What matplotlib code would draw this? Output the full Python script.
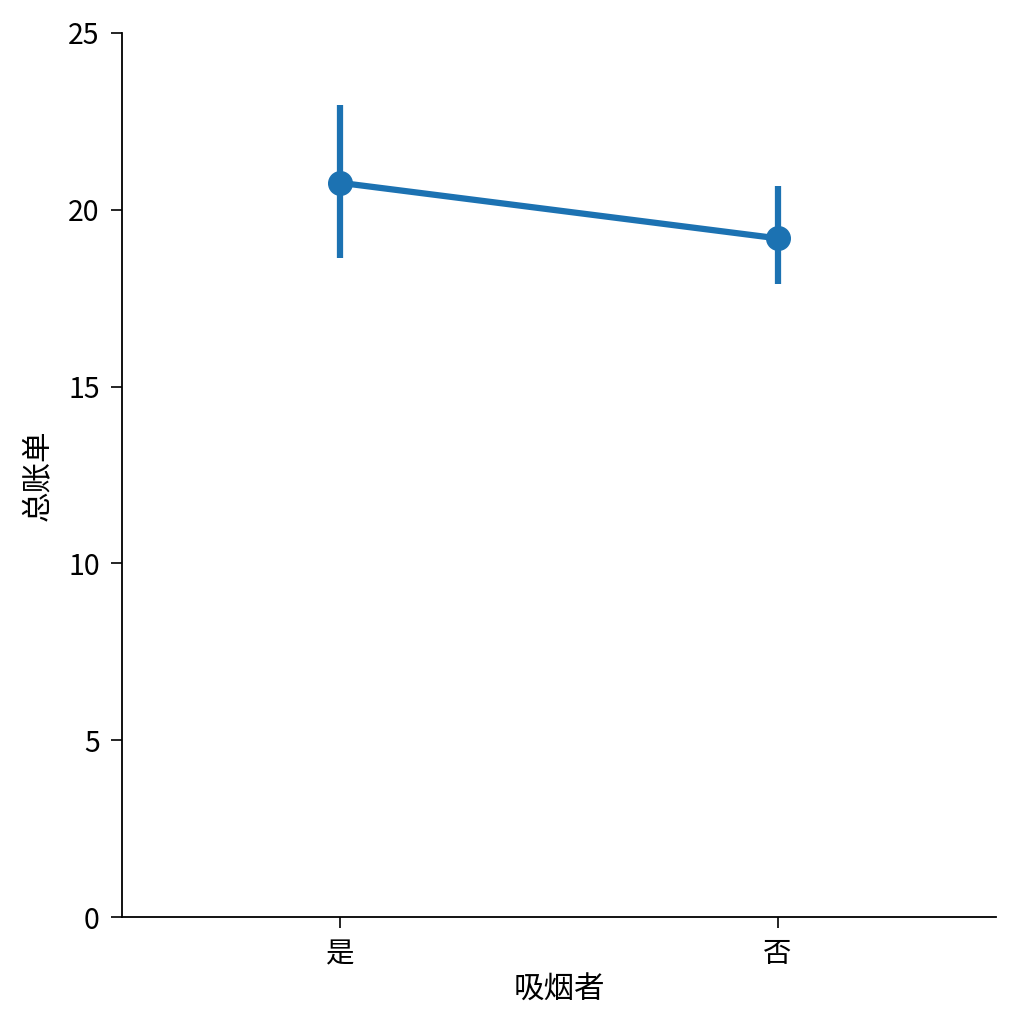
import matplotlib
matplotlib.use("Agg")
import matplotlib.pyplot as plt

plt.rcParams['font.family'] = ['Noto Sans CJK SC', 'DejaVu Sans']

categories = ["是", "否"]
means = [20.76, 19.19]
ci_low = [18.64, 17.90]
ci_high = [22.96, 20.67]
yticks = [0, 5, 10, 15, 20, 25]

color = "#1c72b2"

fig = plt.figure(figsize=(10.24, 10.27), dpi=100)
ax = fig.add_axes([0.119, 0.107, 0.854, 0.861])

xs = list(range(len(categories)))
for x, lo, hi in zip(xs, ci_low, ci_high):
    ax.plot([x, x], [lo, hi], color=color, lw=4.5, solid_capstyle='butt', zorder=2)
ax.plot(xs, means, color=color, lw=4.5, marker='o', markersize=17, zorder=3)

ax.set_xlim(-0.5, 1.5)
ax.set_ylim(0, 25)
ax.set_xticks(xs)
ax.set_xticklabels(categories)
ax.set_yticks(yticks)
ax.tick_params(labelsize=20.5, length=8, width=1.2, pad=8)
for s in ['top', 'right']:
    ax.spines[s].set_visible(False)
for s in ['left', 'bottom']:
    ax.spines[s].set_linewidth(1.3)
ax.set_xlabel("吸烟者", fontsize=22, labelpad=4)
ax.set_ylabel("总账单", fontsize=22, labelpad=10)

fig.savefig("out.png", dpi=100)
